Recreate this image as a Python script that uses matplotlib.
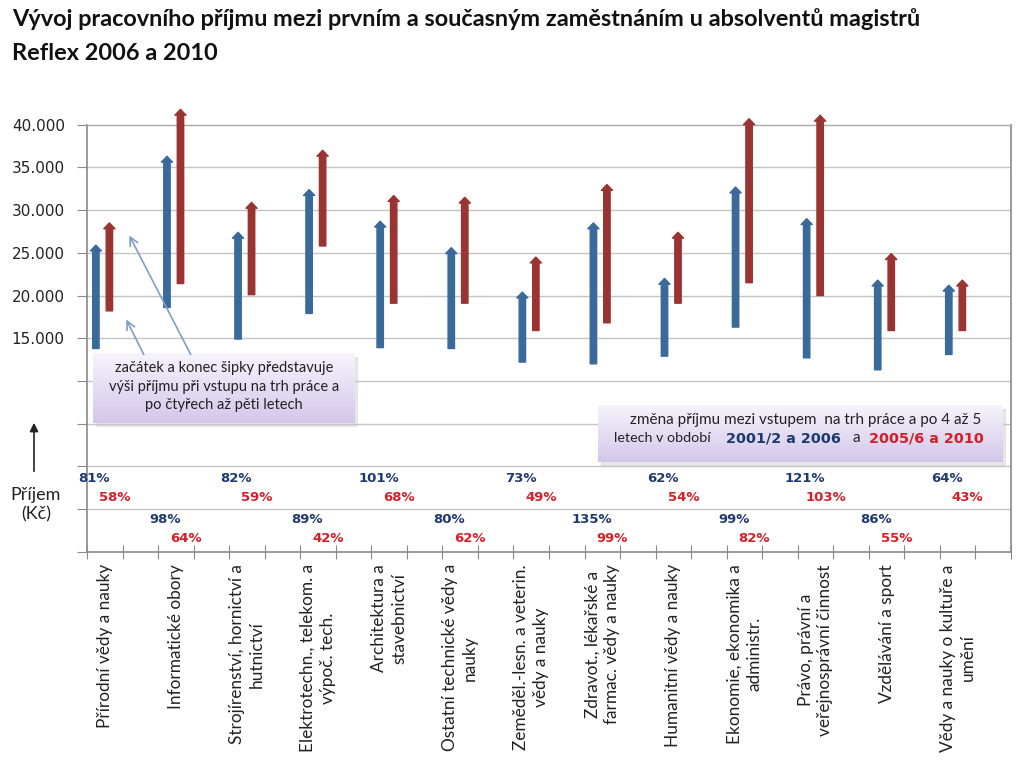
import numpy as np
import matplotlib
matplotlib.use("Agg")
import matplotlib.pyplot as plt
from matplotlib.patches import FancyArrowPatch, ArrowStyle, Rectangle
from matplotlib.ticker import FuncFormatter, FixedLocator

# ---------------- data ----------------
categories = [
    "Přírodní vědy a nauky",
    "Informatické obory",
    "Strojírenství, hornictví a\nhutnictví",
    "Elektrotechn., telekom. a\nvýpoč. tech.",
    "Architektura a\nstavebnictví",
    "Ostatní technické vědy a\nnauky",
    "Zeměděl.-lesn. a veterin.\nvědy a nauky",
    "Zdravot., lékařské a\nfarmac. vědy a nauky",
    "Humanitní vědy a nauky",
    "Ekonomie, ekonomika a\nadministr.",
    "Právo, právní a\nveřejnosprávní činnost",
    "Vzdělávání a sport",
    "Vědy a nauky o kultuře a\numění",
]
start_2006 = [13800, 18600, 14900, 17900, 13900, 13800, 12200, 12000, 12900, 16300, 12700, 11300, 13100]
end_2006 = [25900, 36300, 27400, 32400, 28700, 25600, 20400, 28500, 22000, 32700, 29000, 21800, 21200]
start_2010 = [18200, 21400, 20100, 25800, 19100, 19100, 15900, 16800, 19100, 21500, 20000, 15900, 15900]
end_2010 = [28500, 41800, 30900, 37000, 31700, 31500, 24500, 33000, 27400, 40700, 41100, 24900, 21800]
pct_2006 = [81, 98, 82, 89, 101, 80, 73, 135, 62, 99, 121, 86, 64]
pct_2010 = [58, 64, 59, 42, 68, 62, 49, 99, 54, 82, 103, 55, 43]
y_ticks = list(range(-10000, 40001, 5000))

title_lines = ["Vývoj pracovního příjmu mezi prvním a současným zaměstnáním u absolventů magistrů",
               "Reflex 2006 a 2010"]

BLUE = "#3A6A9A"
RED = "#9A3432"
BLUE_TXT = "#1F3A6E"
RED_TXT = "#D41F28"
GRID = "#C4C4C4"
AXC = "#8A8A8A"
SANS = ["Lato", "DejaVu Sans"]

fig = plt.figure(figsize=(10.24, 7.62), dpi=100)
ax = fig.add_axes([87 / 1024, 1 - 551.7 / 762, (1011 - 87) / 1024, (551.7 - 124.7) / 762])

n = len(categories)
ax.set_xlim(0, 2 * n)
ax.set_ylim(-10000, 40000)

# grid
for yv in y_ticks[1:-1]:
    ax.axhline(yv, color=GRID, lw=1.0, zorder=0)

for s in ["left", "bottom", "right"]:
    ax.spines[s].set_color(AXC)
    ax.spines[s].set_linewidth(1.2)
ax.spines["top"].set_color("#A8A8A8")
ax.spines["top"].set_linewidth(1.0)

# y ticks
ax.yaxis.set_major_locator(FixedLocator(y_ticks))
ax.yaxis.set_major_formatter(FuncFormatter(
    lambda v, p: f"{int(v):,}".replace(",", ".") if v >= 15000 else ""))
ax.tick_params(axis="y", direction="out", length=7, color=AXC, labelsize=11,
               labelcolor="#222222", pad=9)
for t in ax.get_yticklabels():
    t.set_family("DejaVu Sans")

# x ticks
ax.xaxis.set_major_locator(FixedLocator(np.arange(0, 2 * n + 1)))
ax.xaxis.set_major_formatter(FuncFormatter(lambda v, p: ""))
ax.xaxis.set_minor_locator(FixedLocator(np.arange(n) * 2 + 0.5))
ax.set_xticklabels(categories, minor=True, rotation=90, ha="center", va="top",
                   multialignment="center", fontsize=12.4, family=SANS, color="#222222",
                   linespacing=1.3)
ax.tick_params(axis="x", which="major", direction="inout", length=10, color=AXC)
ax.tick_params(axis="x", which="minor", length=0, pad=9)

# arrows
style = ArrowStyle.Simple(head_length=4.2, head_width=8.0, tail_width=4.6)
for i in range(n):
    xb = 2 * i + 0.25
    xr = 2 * i + 0.63
    for x, y0, y1, c in [(xb, start_2006[i], end_2006[i], BLUE), (xr, start_2010[i], end_2010[i], RED)]:
        a = FancyArrowPatch((x, y0), (x, y1), arrowstyle=style, mutation_scale=1,
                            color=c, shrinkA=0, shrinkB=0, clip_on=False, zorder=3,
                            transform=ax.transData)
        ax.add_patch(a)
    # percentages
    if i % 2 == 0:
        yb, yr = -1450, -3700
    else:
        yb, yr = -6200, -8450
    ax.text(2 * i + 0.2, yb, f"{pct_2006[i]}%", color=BLUE_TXT, fontsize=9.5, fontweight="bold",
            ha="center", va="center", family="DejaVu Sans", zorder=4)
    ax.text(2 * i + 0.78, yr, f"{pct_2010[i]}%", color=RED_TXT, fontsize=9.5, fontweight="bold",
            ha="center", va="center", family="DejaVu Sans", zorder=4)

# title
fig.text(12 / 1024, 1 - 19 / 762, title_lines[0], fontsize=16.9, fontweight="bold",
         family=SANS, ha="left", va="center", color="#111111")
fig.text(12 / 1024, 1 - 53 / 762, title_lines[1], fontsize=16.9, fontweight="bold",
         family=SANS, ha="left", va="center", color="#111111")

# y label with arrow
fig.add_artist(FancyArrowPatch((34 / 1024, 1 - 474 / 762), (34 / 1024, 1 - 420 / 762),
                               transform=fig.transFigure, arrowstyle="-|>,head_length=5,head_width=2.5",
                               mutation_scale=1, color="#222222", lw=1.2))
fig.text(36 / 1024, 1 - 505 / 762, "Příjem\n(Kč)", fontsize=13, family=SANS, ha="center",
         va="center", linespacing=1.25, color="#222222")


def gradient_box(px0, py0, px1, py1):
    # shadow
    sh = fig.add_axes([(px0 + 3) / 1024, 1 - (py1 + 4) / 762, (px1 - px0) / 1024, (py1 - py0) / 762])
    sh.set_axis_off()
    sh.add_patch(Rectangle((0, 0), 1, 1, transform=sh.transAxes, color="#C8C8C8", alpha=0.45))
    bx = fig.add_axes([px0 / 1024, 1 - py1 / 762, (px1 - px0) / 1024, (py1 - py0) / 762])
    bx.set_axis_off()
    top = np.array([0.965, 0.955, 0.985])
    bot = np.array([0.83, 0.78, 0.92])
    t = np.linspace(0, 1, 64)[:, None]
    img = (top * (1 - t) + bot * t)[:, None, :]
    img = np.repeat(img, 4, axis=1)
    bx.imshow(img, aspect="auto", extent=[0, 1, 0, 1], interpolation="bilinear")
    bx.set_xlim(0, 1)
    bx.set_ylim(0, 1)
    return bx


# box 1
gradient_box(93, 353, 355, 423)
for k, line in enumerate(["začátek a konec šipky představuje",
                          "výši příjmu při vstupu na trh práce a",
                          "po čtyřech až pěti letech"]):
    fig.text(224 / 1024, 1 - (368 + 18.5 * k) / 762, line, fontsize=10.5, family=SANS,
             ha="center", va="center", color="#222222")

# annotation pointers
for (x0, y0), (x1, y1) in [((145, 357), (125, 317)), ((192, 357), (128, 233))]:
    fig.add_artist(FancyArrowPatch((x0 / 1024, 1 - y0 / 762), (x1 / 1024, 1 - y1 / 762),
                                   transform=fig.transFigure, arrowstyle="->,head_length=6,head_width=3",
                                   mutation_scale=1, color="#7E9FC4", lw=1.2, zorder=10))

# box 2
gradient_box(598, 405, 1003, 462)
fig.text(806 / 1024, 1 - 420 / 762, "změna příjmu mezi vstupem  na trh práce a po 4 až 5",
         fontsize=11, family=SANS, ha="center", va="center", color="#222222")
yb2 = 1 - 438 / 762
fig.text(614 / 1024, yb2, "letech v období", fontsize=10.3, family=SANS, ha="left",
         va="center", color="#222222")
fig.text(726 / 1024, yb2, "2001/2 a 2006", fontsize=10.4, family="DejaVu Sans",
         fontweight="bold", ha="left", va="center", color=BLUE_TXT)
fig.text(856 / 1024, yb2, "a", fontsize=11, family=SANS, ha="center", va="center", color="#222222")
fig.text(869 / 1024, yb2, "2005/6 a 2010", fontsize=10.4, family="DejaVu Sans",
         fontweight="bold", ha="left", va="center", color=RED_TXT)

fig.savefig("out.png", dpi=100)
